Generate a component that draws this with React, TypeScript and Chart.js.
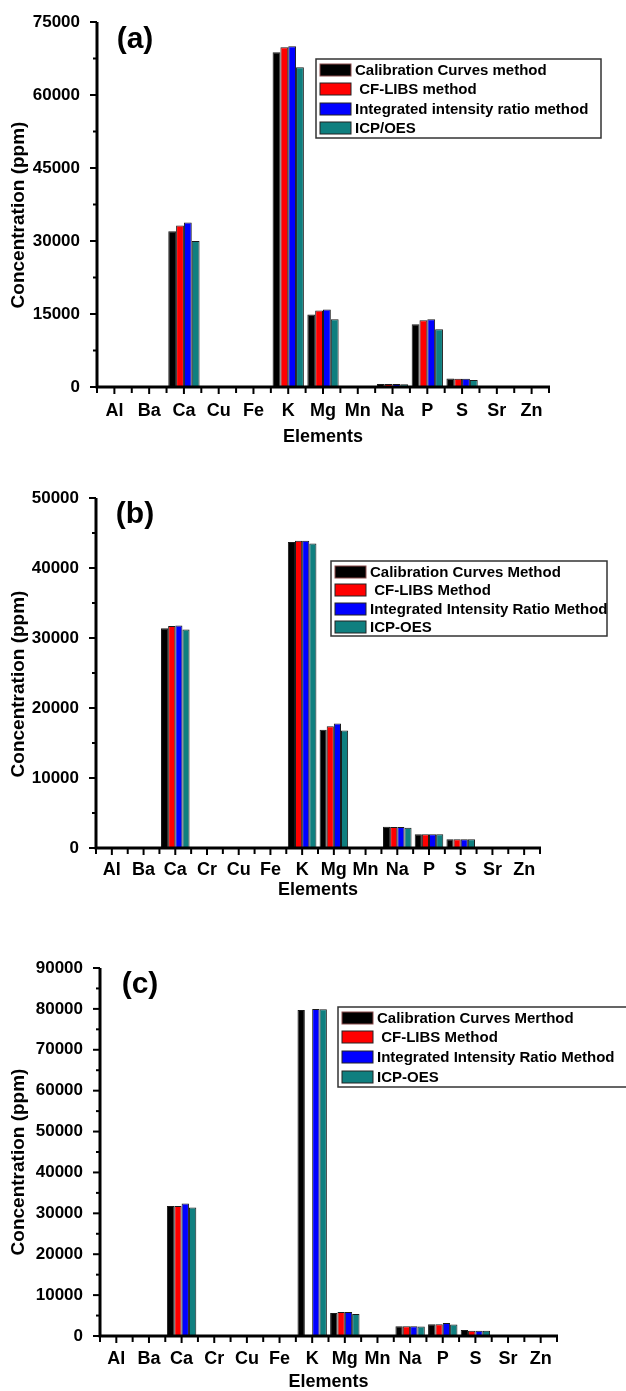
import React, { useEffect, useRef } from 'react';
import { Chart, registerables } from 'chart.js';

Chart.register(...registerables);

// ---- data ----
const elementsA = ['Al', 'Ba', 'Ca', 'Cu', 'Fe', 'K', 'Mg', 'Mn', 'Na', 'P', 'S', 'Sr', 'Zn'];
const elementsBC = ['Al', 'Ba', 'Ca', 'Cr', 'Cu', 'Fe', 'K', 'Mg', 'Mn', 'Na', 'P', 'S', 'Sr', 'Zn'];

// panel (a)
const calibrationA = [0, 0, 32000, 0, 0, 68800, 14900, 0, 600, 12900, 1750, 0, 0];
const cfLibsA = [0, 0, 33200, 0, 0, 69800, 15700, 0, 600, 13700, 1700, 0, 0];
const intensityRatioA = [0, 0, 33800, 0, 0, 70000, 15900, 0, 600, 13900, 1700, 0, 0];
const icpA = [0, 0, 30000, 0, 0, 65700, 13900, 0, 550, 11850, 1450, 0, 0];
const namesA = ['Calibration Curves method', ' CF-LIBS method', 'Integrated intensity ratio method', 'ICP/OES'];

// panel (b)
const calibrationB = [0, 0, 31400, 0, 0, 0, 43700, 16900, 0, 3050, 1950, 1250, 0, 0];
const cfLibsB = [0, 0, 31700, 0, 0, 0, 43900, 17400, 0, 3000, 1950, 1250, 0, 0];
const intensityRatioB = [0, 0, 31800, 0, 0, 0, 43900, 17800, 0, 3000, 1950, 1250, 0, 0];
const icpB = [0, 0, 31200, 0, 0, 0, 43500, 16800, 0, 2900, 1950, 1250, 0, 0];
const namesB = ['Calibration Curves Method', ' CF-LIBS Method', 'Integrated Intensity Ratio Method', 'ICP-OES'];

// panel (c)
const calibrationC = [0, 0, 31800, 0, 0, 0, 79700, 5600, 0, 2400, 2900, 1450, 0, 0];
const cfLibsC = [0, 0, 31800, 0, 0, 0, 0, 5900, 0, 2400, 2900, 1300, 0, 0];
const intensityRatioC = [0, 0, 32400, 0, 0, 0, 80000, 5900, 0, 2400, 3200, 1300, 0, 0];
const icpC = [0, 0, 31400, 0, 0, 0, 79900, 5400, 0, 2350, 2800, 1300, 0, 0];
const namesC = ['Calibration Curves Merthod', ' CF-LIBS Method', 'Integrated Intensity Ratio Method', 'ICP-OES'];

const COLORS = ['#000000', '#ff0000', '#0000ff', '#0f7f7f'];
const FONT = '"Liberation Sans", Arial, Helvetica, sans-serif';

type Box = { left: number; right: number; top: number; bottom: number };

type PanelConfig = {
  tag: string;
  labels: string[];
  series: number[][];
  names: string[];
  yMax: number;
  yStep: number;
  top: number; // canvas top on the page
  height: number; // canvas height
  area: Box; // plot area on the page
  legend: Box & { rows: number[] }; // legend frame and row centres on the page
  tagPos: [number, number];
  yTitleY: number;
  xTickY: number;
  xTitleY: number;
};

// Axes with outward major/minor ticks, titles, panel tag and the framed legend
const decorPlugin = {
  id: 'decor',
  afterDraw(chart: any, _args: any, opts: any) {
    const cfg: PanelConfig = opts.cfg;
    const ctx: CanvasRenderingContext2D = chart.ctx;
    const ca = chart.chartArea;
    const xs = chart.scales.x;
    const ys = chart.scales.y;
    const dy = -cfg.top;
    ctx.save();
    ctx.strokeStyle = '#000';
    ctx.fillStyle = '#000';
    ctx.lineCap = 'butt';

    // y ticks (major + minor), outward
    ctx.lineWidth = 2;
    for (let v = 0; v <= cfg.yMax + 1e-6; v += cfg.yStep / 2) {
      const y = ys.getPixelForValue(v);
      const major = Math.abs(v / cfg.yStep - Math.round(v / cfg.yStep)) < 1e-6;
      const len = major ? 7 : 4;
      ctx.beginPath();
      ctx.moveTo(ca.left - len, y);
      ctx.lineTo(ca.left, y);
      ctx.stroke();
    }
    // x ticks at category centres and boundaries, outward
    const n = cfg.labels.length;
    const w = (ca.right - ca.left) / n;
    for (let i = 0; i <= n; i++) {
      const xb = ca.left + i * w;
      ctx.beginPath();
      ctx.moveTo(xb, ca.bottom);
      ctx.lineTo(xb, ca.bottom + 6);
      ctx.stroke();
      if (i < n) {
        const xc = xs.getPixelForValue(i);
        ctx.beginPath();
        ctx.moveTo(xc, ca.bottom);
        ctx.lineTo(xc, ca.bottom + 7);
        ctx.stroke();
      }
    }
    // axis lines
    ctx.lineWidth = 3;
    ctx.beginPath();
    ctx.moveTo(ca.left, ca.top);
    ctx.lineTo(ca.left, ca.bottom + 1.5);
    ctx.moveTo(ca.left - 1.5, ca.bottom);
    ctx.lineTo(ca.right + 1, ca.bottom);
    ctx.stroke();

    // y title
    ctx.font = `bold 19px ${FONT}`;
    ctx.textAlign = 'center';
    ctx.textBaseline = 'middle';
    ctx.save();
    ctx.translate(19, cfg.yTitleY + dy);
    ctx.rotate(-Math.PI / 2);
    ctx.fillText('Concentration (ppm)', 0, 0);
    ctx.restore();

    // x title
    ctx.font = `bold 18px ${FONT}`;
    ctx.fillText('Elements', (ca.left + ca.right) / 2, cfg.xTitleY + dy);

    // panel tag
    ctx.font = `bold 30px ${FONT}`;
    ctx.fillText(cfg.tag, cfg.tagPos[0], cfg.tagPos[1] + dy);

    // legend
    const lg = cfg.legend;
    ctx.fillStyle = '#fff';
    ctx.fillRect(lg.left, lg.top + dy, lg.right - lg.left, lg.bottom - lg.top);
    ctx.strokeStyle = '#333';
    ctx.lineWidth = 1.5;
    ctx.strokeRect(lg.left, lg.top + dy, lg.right - lg.left, lg.bottom - lg.top);
    ctx.font = `bold 15px ${FONT}`;
    ctx.textAlign = 'left';
    chart.data.datasets.forEach((ds: any, i: number) => {
      const yc = lg.rows[i] + dy;
      ctx.fillStyle = ds.backgroundColor;
      ctx.fillRect(lg.left + 4, yc - 6, 31, 12);
      ctx.strokeStyle = i === 0 ? '#8a4a4a' : '#222';
      ctx.lineWidth = 1;
      ctx.strokeRect(lg.left + 4, yc - 6, 31, 12);
      ctx.fillStyle = '#000';
      ctx.fillText(ds.label, lg.left + 39, yc + 1);
    });
    ctx.restore();
  },
};

function Panel({ cfg }: { cfg: PanelConfig }) {
  const ref = useRef<HTMLCanvasElement>(null);
  useEffect(() => {
    const canvas = ref.current;
    if (!canvas) return;
    const chart = new Chart(canvas, {
      type: 'bar',
      data: {
        labels: cfg.labels,
        datasets: cfg.series.map((d, i) => ({
          label: cfg.names[i],
          data: d,
          backgroundColor: COLORS[i],
          borderColor: '#1a1a1a',
          borderWidth: 1,
          categoryPercentage: 0.9,
          barPercentage: 1,
        })),
      },
      options: {
        responsive: false,
        animation: false,
        devicePixelRatio: 1,
        layout: {
          padding: { left: 0, right: 626 - cfg.area.right, top: cfg.area.top - cfg.top, bottom: 0 },
        },
        plugins: {
          legend: { display: false },
          tooltip: { enabled: false },
          decor: { cfg },
        } as any,
        scales: {
          x: {
            grid: { display: false },
            border: { display: false },
            ticks: {
              color: '#000',
              font: { family: FONT, size: 18, weight: 'bold' },
              padding: cfg.xTickY - cfg.area.bottom - 17,
              autoSkip: false,
              maxRotation: 0,
            },
            afterFit: (s: any) => {
              s.height = cfg.top + cfg.height - cfg.area.bottom;
            },
          },
          y: {
            min: 0,
            max: cfg.yMax,
            grid: { display: false },
            border: { display: false },
            ticks: {
              stepSize: cfg.yStep,
              color: '#000',
              font: { family: FONT, size: 17, weight: 'bold' },
              padding: 9,
              callback: (v: any) => String(v),
            },
            afterFit: (s: any) => {
              s.width = cfg.area.left;
            },
          },
        },
      } as any,
      plugins: [decorPlugin],
    });
    return () => chart.destroy();
  }, [cfg]);
  return (
    <canvas
      ref={ref}
      width={626}
      height={cfg.height}
      style={{ position: 'absolute', left: 0, top: cfg.top, width: 626, height: cfg.height }}
    />
  );
}

const panelA: PanelConfig = {
  tag: '(a)',
  labels: elementsA,
  series: [calibrationA, cfLibsA, intensityRatioA, icpA],
  names: namesA,
  yMax: 75000,
  yStep: 15000,
  top: 0,
  height: 455,
  area: { left: 97, right: 549, top: 22, bottom: 387 },
  legend: { left: 316, right: 601, top: 59, bottom: 138, rows: [70, 89, 109, 128] },
  tagPos: [135, 40],
  yTitleY: 215,
  xTickY: 409,
  xTitleY: 437,
};

const panelB: PanelConfig = {
  tag: '(b)',
  labels: elementsBC,
  series: [calibrationB, cfLibsB, intensityRatioB, icpB],
  names: namesB,
  yMax: 50000,
  yStep: 10000,
  top: 455,
  height: 445,
  area: { left: 96, right: 540, top: 498, bottom: 848 },
  legend: { left: 331, right: 607, top: 561, bottom: 636, rows: [572, 590, 609, 627] },
  tagPos: [135, 515],
  yTitleY: 684,
  xTickY: 868,
  xTitleY: 890,
};

const panelC: PanelConfig = {
  tag: '(c)',
  labels: elementsBC,
  series: [calibrationC, cfLibsC, intensityRatioC, icpC],
  names: namesC,
  yMax: 90000,
  yStep: 10000,
  top: 900,
  height: 491,
  area: { left: 100, right: 557, top: 968, bottom: 1336 },
  legend: { left: 338, right: 640, top: 1007, bottom: 1087, rows: [1018, 1037, 1057, 1077] },
  tagPos: [140, 985],
  yTitleY: 1162,
  xTickY: 1357,
  xTitleY: 1382,
};

export default function App() {
  return (
    <div
      style={{
        position: 'absolute',
        left: 0,
        top: 0,
        width: 626,
        height: 1391,
        overflow: 'hidden',
        background: '#fff',
      }}
    >
      <Panel cfg={panelA} />
      <Panel cfg={panelB} />
      <Panel cfg={panelC} />
    </div>
  );
}
